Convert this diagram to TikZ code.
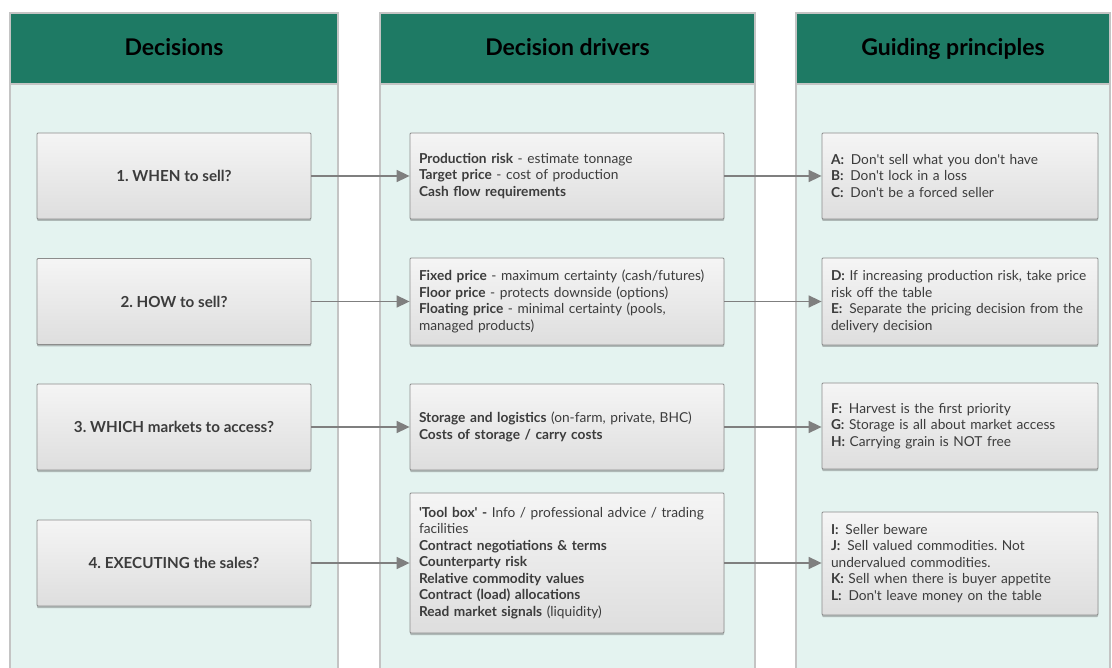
\documentclass[tikz,border=0pt]{standalone}
\usepackage{fontspec}
\setmainfont{Lato}[Ligatures=TeXOff]
\usepackage{xcolor}
\usepackage{tikz}
\usetikzlibrary{arrows.meta, shadows, positioning, calc}
\definecolor{headgreen}{HTML}{1E7A64}
\definecolor{mint}{HTML}{E4F3F0}
\definecolor{colframe}{HTML}{C4C4C4}
\definecolor{boxframe}{HTML}{8C8C8C}
\definecolor{inktext}{HTML}{3C3C3C}
\definecolor{arrowgray}{HTML}{7F7F7F}
\frenchspacing

\tikzset{
  column/.style={fill=mint, draw=colframe, line width=1.2pt},
  header/.style={fill=headgreen, draw=colframe, line width=1.2pt},
  headtext/.style={font=\fontsize{23}{26}\selectfont\bfseries, text=black, anchor=base},
  card/.style={draw=boxframe, line width=0.8pt, top color=white!96!black, bottom color=white!87!black,
    rounded corners=1pt, inner sep=0pt, text=inktext,
    drop shadow={shadow xshift=0pt, shadow yshift=-2pt, opacity=0.35, fill=black!70},
    font=\fontsize{13.7}{16.5}\selectfont},
  decbox/.style={card, minimum width=274pt, minimum height=86pt, align=center, font=\fontsize{15.2}{18}\selectfont\bfseries},
  drvbox/.style={card, minimum width=314pt, text width=296pt, align=left},
  pribox/.style={card, minimum width=276pt, text width=258pt, align=left},
  link/.style={draw=arrowgray, line width=1.6pt, -{Triangle[length=13pt,width=12pt]}},
}

\begin{document}
\begin{tikzpicture}[x=1pt, y=-1pt]
      \useasboundingbox (0,0) rectangle (1112,668);

      % columns
      \foreach \i/\xa/\xb/\title in {1/10/338/Decisions, 2/380/755/Decision drivers, 3/796/1110/Guiding principles}{
        \draw[column] (\xa,84) rectangle (\xb,700);
        \draw[header] (\xa,13) rectangle (\xb,84);
        \node[headtext] (head\i) at ({(\xa+\xb)/2}, 56) {\title};
      }

      % decisions
      \node[decbox] (dec1) at (174,176)   {1. WHEN to sell?};
      \node[decbox] (dec2) at (174,301.5) {2. HOW to sell?};
      \node[decbox] (dec3) at (174,427)   {3. WHICH markets to access?};
      \node[decbox] (dec4) at (174,563)   {4. EXECUTING the sales?};

      % drivers
      \node[drvbox, minimum height=86pt] (drv1) at (567,176) {\textbf{Production risk} - estimate tonnage\\
        \textbf{Target price} - cost of production\\
        \textbf{Cash flow requirements}};
      \node[drvbox, minimum height=87pt] (drv2) at (567,301.5) {\textbf{Fixed price} - maximum certainty (cash/futures)\\
        \textbf{Floor price} - protects downside (options)\\
        \textbf{Floating price} - minimal certainty (pools,\\
        managed products)};
      \node[drvbox, minimum height=86pt] (drv3) at (567,427) {\textbf{Storage and logistics} (on-farm, private, BHC)\\
        \textbf{Costs of storage / carry costs}};
      \node[drvbox, minimum height=140pt] (drv4) at (567,563) {\textbf{'Tool box' -} Info / professional advice / trading\\
        facilities\\
        \textbf{Contract negotiations \& terms}\\
        \textbf{Counterparty risk}\\
        \textbf{Relative commodity values}\\
        \textbf{Contract (load) allocations}\\
        \textbf{Read market signals} (liquidity)};

      % principles
      \node[pribox, minimum height=86pt] (pri1) at (960,176) {\textbf{A:}\enspace Don't sell what you don't have\\
        \textbf{B:}\enspace Don't lock in a loss\\
        \textbf{C:}\enspace Don't be a forced seller};
      \node[pribox, minimum height=87pt] (pri2) at (960,301.5) {\textbf{D:} If increasing production risk, take price\\
        risk off the table\\
        \textbf{E:}\enspace Separate the pricing decision from the\\
        delivery decision};
      \node[pribox, minimum height=86pt] (pri3) at (960,426) {\textbf{F:}\enspace Harvest is the first priority\\
        \textbf{G:} Storage is all about market access\\
        \textbf{H:} Carrying grain is NOT free};
      \node[pribox, minimum height=103pt] (pri4) at (960,563.5) {\textbf{I:}\enspace Seller beware\\
        \textbf{J:}\enspace Sell valued commodities. Not\\
        undervalued commodities.\\
        \textbf{K:} Sell when there is buyer appetite\\
        \textbf{L:}\enspace Don't leave money on the table};

      % connectors
      \foreach \r in {1,...,4}{
        \draw[link] (dec\r.east) -- (dec\r.east -| drv\r.west);
        \draw[link] (drv\r.east) -- (drv\r.east -| pri\r.west);
      }
    \end{tikzpicture}
\end{document}
